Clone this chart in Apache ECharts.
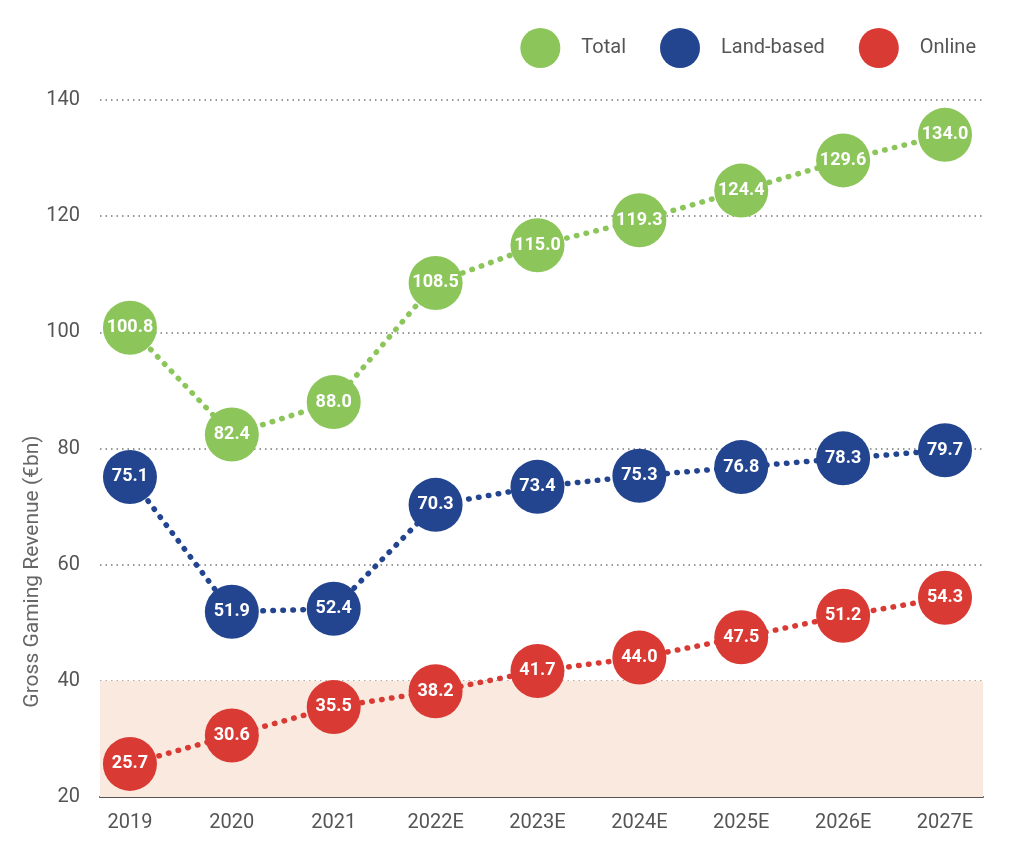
<!DOCTYPE html>
<html>
<head>
<meta charset="utf-8">
<script src="https://cdn.jsdelivr.net/npm/echarts@6/dist/echarts.min.js"></script>
<style>html,body{margin:0;padding:0;background:#fff}#c{width:1010px;height:865px}</style>
</head>
<body>
<div id="c"></div>
<script>
const categories = ['2019','2020','2021','2022E','2023E','2024E','2025E','2026E','2027E'];
const totalValues = [100.8, 82.4, 88.0, 108.5, 115.0, 119.3, 124.4, 129.6, 134.0];
const landValues = [75.1, 51.9, 52.4, 70.3, 73.4, 75.3, 76.8, 78.3, 79.7];
const onlineValues = [25.7, 30.6, 35.5, 38.2, 41.7, 44.0, 47.5, 51.2, 54.3];
const yTicks = [20, 40, 60, 80, 100, 120, 140];
const shadeRange = [20, 40];

const font = 'Roboto, "DejaVu Sans", sans-serif';
const colors = { total: '#8cc65a', land: '#23458f', online: '#d93a33' };

function mk(name, vals, color) {
  return {
    name: name,
    type: 'line',
    z: 3,
    data: vals.map((v, i) => [i, v]),
    symbol: 'circle',
    symbolSize: 54,
    itemStyle: { color: color },
    lineStyle: { color: color, width: 5.5, type: [0.5, 9.5], cap: 'round' },
    label: {
      show: true, position: 'inside', color: '#fff',
      fontFamily: font, fontWeight: 'bold', fontSize: 18,
      formatter: p => p.value[1].toFixed(1)
    },
    emphasis: { disabled: true },
    animation: false
  };
}

const chart = echarts.init(document.getElementById('c'));
chart.setOption({
  animation: false,
  grid: { left: 100, right: 27, top: 100, bottom: 68 },
  legend: {
    right: 29, top: 23, icon: 'circle', itemWidth: 40, itemHeight: 40, itemGap: 34,
    textStyle: { fontFamily: font, fontSize: 20, color: '#555', padding: [0, 0, 0, 16] },
    data: ['Total', 'Land-based', 'Online']
  },
  xAxis: {
    type: 'value', min: -0.294, max: 8.373, minInterval: 1, maxInterval: 1,
    axisLine: { show: true, onZero: false, lineStyle: { color: '#555', width: 2 } },
    axisTick: { show: false },
    splitLine: { show: false },
    axisLabel: {
      fontFamily: font, fontSize: 20, color: '#555', margin: 16,
      showMinLabel: true, showMaxLabel: true,
      formatter: v => (Math.abs(v - Math.round(v)) < 1e-6 && categories[Math.round(v)] !== undefined) ? categories[Math.round(v)] : ''
    }
  },
  yAxis: {
    type: 'value', min: yTicks[0], max: yTicks[yTicks.length - 1], interval: 20,
    name: 'Gross Gaming Revenue (€bn)', nameLocation: 'middle', nameGap: 57, nameMoveOverlap: false,
    nameTextStyle: { fontFamily: font, fontSize: 21, color: '#666', padding: [0, 246, 0, 0] },
    axisLine: { show: false }, axisTick: { show: false },
    axisLabel: { fontFamily: font, fontSize: 20, color: '#555', margin: 20 },
    splitLine: { show: true, lineStyle: { color: '#777', width: 1.5, type: [1.5, 4] } }
  },
  series: [
    {
      type: 'line', data: [], z: 1, silent: true,
      markArea: {
        silent: true,
        itemStyle: { color: '#fae9df' },
        data: [[{ yAxis: shadeRange[0] }, { yAxis: shadeRange[1] }]]
      }
    },
    mk('Total', totalValues, colors.total),
    mk('Land-based', landValues, colors.land),
    mk('Online', onlineValues, colors.online)
  ]
});
</script>
</body>
</html>
